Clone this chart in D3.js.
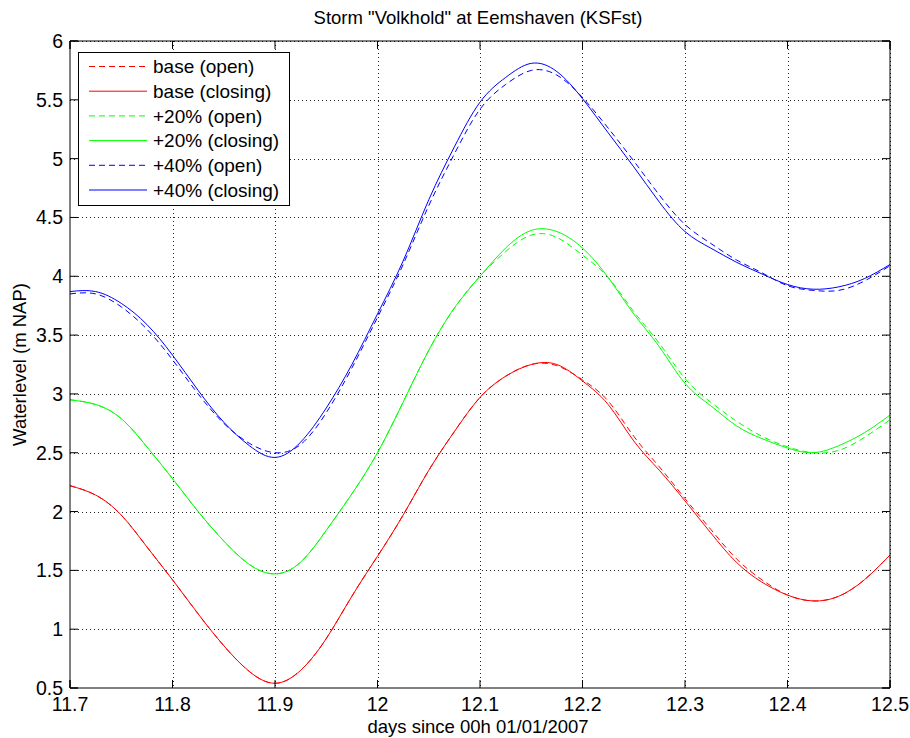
<!DOCTYPE html>
<html>
<head>
<meta charset="utf-8">
<script src="https://cdn.jsdelivr.net/npm/d3@7"></script>
<style>
  html, body { margin: 0; padding: 0; background: #fff; }
  svg { display: block; }
  text { font-family: "Liberation Sans", Arial, Helvetica, sans-serif; fill: #000; }
</style>
</head>
<body>
<svg id="chart" width="910" height="738"></svg>
<script>
// Time axis: days since 00h 01/01/2007
const days = [11.700, 11.725, 11.750, 11.775, 11.800, 11.825, 11.850, 11.875, 11.900, 11.925,
              11.950, 11.975, 12.000, 12.025, 12.050, 12.075, 12.100, 12.125, 12.150, 12.175,
              12.200, 12.225, 12.250, 12.275, 12.300, 12.325, 12.350, 12.375, 12.400, 12.425,
              12.450, 12.475, 12.500];

// Water levels (m NAP) per scenario
const baseOpen = [2.22, 2.14, 1.97, 1.70, 1.42, 1.13, 0.86, 0.64, 0.54, 0.65,
                  0.92, 1.28, 1.62, 1.97, 2.35, 2.68, 2.97, 3.15, 3.25, 3.24,
                  3.12, 2.94, 2.64, 2.38, 2.11, 1.85, 1.60, 1.42, 1.29, 1.24,
                  1.28, 1.42, 1.63];
const baseClosing = [2.22, 2.14, 1.97, 1.70, 1.42, 1.13, 0.86, 0.64, 0.54, 0.65,
                     0.92, 1.28, 1.62, 1.97, 2.35, 2.68, 2.97, 3.15, 3.25, 3.25,
                     3.11, 2.91, 2.60, 2.35, 2.09, 1.82, 1.57, 1.40, 1.29, 1.24,
                     1.28, 1.42, 1.63];
const p20Open = [2.95, 2.91, 2.79, 2.55, 2.28, 2.00, 1.75, 1.55, 1.47, 1.57,
                 1.84, 2.15, 2.50, 2.93, 3.37, 3.73, 4.00, 4.21, 4.35, 4.33,
                 4.18, 3.99, 3.70, 3.43, 3.13, 2.93, 2.77, 2.64, 2.55, 2.50,
                 2.52, 2.63, 2.78];
const p20Closing = [2.95, 2.91, 2.79, 2.55, 2.28, 2.00, 1.75, 1.55, 1.47, 1.57,
                    1.84, 2.15, 2.50, 2.93, 3.37, 3.73, 4.00, 4.24, 4.39, 4.38,
                    4.24, 3.99, 3.68, 3.40, 3.09, 2.90, 2.73, 2.62, 2.54, 2.50,
                    2.56, 2.67, 2.82];
const p40Open = [3.85, 3.85, 3.74, 3.55, 3.29, 3.00, 2.75, 2.58, 2.50, 2.57,
                 2.84, 3.22, 3.65, 4.10, 4.60, 5.04, 5.42, 5.63, 5.75, 5.71,
                 5.52, 5.26, 4.98, 4.69, 4.44, 4.28, 4.14, 4.03, 3.92, 3.88,
                 3.88, 3.96, 4.09];
const p40Closing = [3.87, 3.87, 3.77, 3.59, 3.33, 3.03, 2.76, 2.56, 2.46, 2.59,
                    2.88, 3.25, 3.68, 4.13, 4.65, 5.10, 5.48, 5.69, 5.81, 5.74,
                    5.51, 5.22, 4.93, 4.63, 4.38, 4.24, 4.12, 4.02, 3.93, 3.89,
                    3.91, 3.98, 4.10];

const seriesNames = ["base (open)", "base (closing)", "+20% (open)", "+20% (closing)", "+40% (open)", "+40% (closing)"];
const seriesValues = [baseOpen, baseClosing, p20Open, p20Closing, p40Open, p40Closing];
const seriesColors = ["#ff0000", "#ff0000", "#00ff00", "#00ff00", "#0000ff", "#0000ff"];
const seriesDashed = [true, false, true, false, true, false];

const xTicks = [11.7, 11.8, 11.9, 12, 12.1, 12.2, 12.3, 12.4, 12.5];
const yTicks = [0.5, 1, 1.5, 2, 2.5, 3, 3.5, 4, 4.5, 5, 5.5, 6];

const titleText = 'Storm "Volkhold" at Eemshaven (KSFst)';
const xLabelText = "days since 00h 01/01/2007";
const yLabelText = "Waterlevel (m NAP)";

// Layout
const L = 70, R = 890, T = 41, B = 688;
const svg = d3.select("#chart");

const x = d3.scaleLinear().domain([11.7, 12.5]).range([L, R]);
const y = d3.scaleLinear().domain([0.5, 6]).range([B, T]);

// Dotted grid
const grid = svg.append("g");
grid.selectAll("line.gx").data(xTicks.slice(1, -1)).join("line")
  .attr("x1", d => Math.round(x(d)) + 0.5).attr("x2", d => Math.round(x(d)) + 0.5)
  .attr("y1", T).attr("y2", B)
  .attr("stroke", "#222").attr("stroke-width", 1).attr("stroke-dasharray", "1,3");
grid.selectAll("line.gy").data(yTicks.slice(1, -1)).join("line")
  .attr("y1", d => Math.round(y(d)) + 0.5).attr("y2", d => Math.round(y(d)) + 0.5)
  .attr("x1", L).attr("x2", R)
  .attr("stroke", "#222").attr("stroke-width", 1).attr("stroke-dasharray", "1,3");
// grid along top and right edges
grid.append("line").attr("x1", L).attr("x2", R).attr("y1", T + 0.5).attr("y2", T + 0.5)
  .attr("stroke", "#222").attr("stroke-dasharray", "1,3");
grid.append("line").attr("x1", R + 0.5).attr("x2", R + 0.5).attr("y1", T).attr("y2", B)
  .attr("stroke", "#222").attr("stroke-dasharray", "1,3");

// Curves
const line = d3.line()
  .x((d, i) => x(days[i]))
  .y(d => y(d))
  .curve(d3.curveNatural);

const plot = svg.append("g");
seriesValues.forEach((vals, k) => {
  plot.append("path")
    .datum(vals)
    .attr("d", line)
    .attr("fill", "none")
    .attr("stroke", seriesColors[k])
    .attr("stroke-width", 1)
    .attr("stroke-dasharray", seriesDashed[k] ? "6,4" : null);
});

// Axes: bottom and left with inward ticks, labels outside
const xAxis = d3.axisBottom(x).tickValues(xTicks).tickSize(-8).tickPadding(16).offset(0)
  .tickFormat(d3.format("~g"));
const gx = svg.append("g").attr("transform", `translate(0,${B})`).call(xAxis);
const yAxis = d3.axisLeft(y).tickValues(yTicks).tickSize(-8).tickPadding(7).offset(0)
  .tickFormat(d3.format("~g"));
const gy = svg.append("g").attr("transform", `translate(${L},0)`).call(yAxis);

// Mirrored ticks on top and right
const xAxisTop = d3.axisTop(x).tickValues(xTicks).tickSize(-8).offset(0).tickFormat("");
const gxt = svg.append("g").attr("transform", `translate(0,${T})`).call(xAxisTop);
const yAxisRight = d3.axisRight(y).tickValues(yTicks).tickSize(-8).offset(0).tickFormat("");
const gyr = svg.append("g").attr("transform", `translate(${R},0)`).call(yAxisRight);

[gx, gy, gxt, gyr].forEach(g => {
  g.select(".domain").attr("stroke", "#000").attr("stroke-width", 1);
  g.selectAll(".tick line").attr("stroke", "#000");
  g.selectAll(".tick text").attr("font-size", 19.5).attr("font-family", "Liberation Sans, Arial, sans-serif");
});
// x tick labels: baseline about 711px
gx.selectAll(".tick text").attr("dy", "0.36em");
gy.selectAll(".tick text").attr("dy", "0.36em");

// Titles
svg.append("text").attr("x", (L + R) / 2 - 2).attr("y", 24)
  .attr("text-anchor", "middle").attr("font-size", 18.5).text(titleText);
svg.append("text").attr("x", (L + R) / 2 - 2).attr("y", 733)
  .attr("text-anchor", "middle").attr("font-size", 18.5).text(xLabelText);
svg.append("text").attr("transform", `translate(26,${(T + B) / 2}) rotate(-90)`)
  .attr("text-anchor", "middle").attr("font-size", 18.5).text(yLabelText);

// Legend
const lg = svg.append("g");
lg.append("rect").attr("x", 78.5).attr("y", 52.5).attr("width", 211).attr("height", 153)
  .attr("fill", "#fff").attr("stroke", "#000").attr("stroke-width", 1);
const rowY0 = 66.5, rowStep = 24.7;
seriesNames.forEach((name, k) => {
  const yy = rowY0 + k * rowStep;
  lg.append("line").attr("x1", 89).attr("x2", 147).attr("y1", yy).attr("y2", yy)
    .attr("stroke", seriesColors[k]).attr("stroke-width", 1)
    .attr("stroke-dasharray", seriesDashed[k] ? "6,4" : null);
  lg.append("text").attr("x", 153).attr("y", yy).attr("dy", "0.35em")
    .attr("font-size", 19).text(name);
});
</script>
</body>
</html>
